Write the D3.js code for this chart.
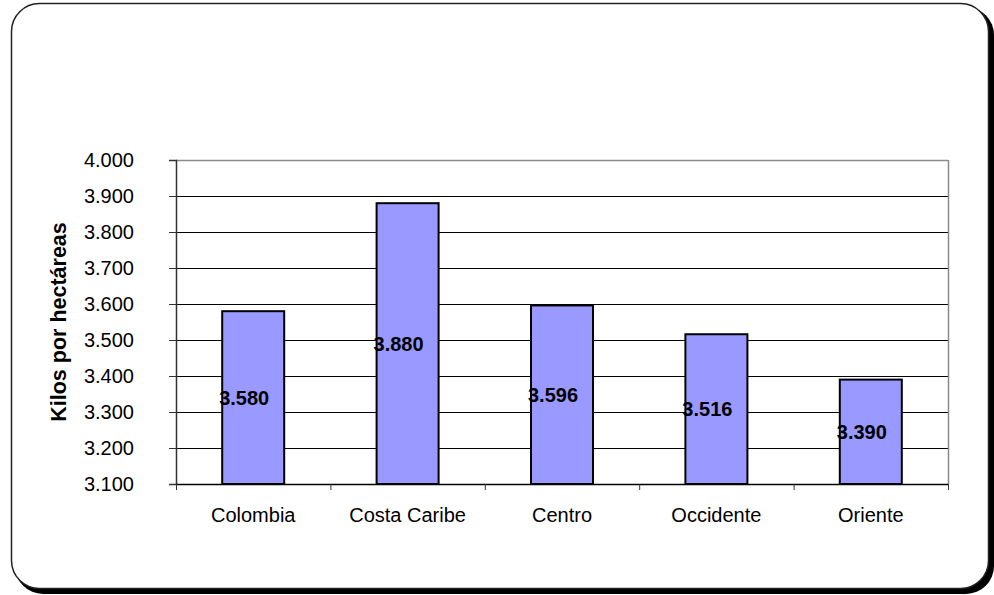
<!DOCTYPE html>
<html>
<head>
<meta charset="utf-8">
<script src="https://cdn.jsdelivr.net/npm/d3@7"></script>
<style>
  html, body { margin: 0; padding: 0; background: #fff; }
  svg { display: block; font-family: Arial, "Liberation Sans", sans-serif; }
</style>
</head>
<body>
<svg id="chart" width="994" height="595"></svg>
<script>
// Rendimiento por región (kilos por hectárea)
const categories = ["Colombia", "Costa Caribe", "Centro", "Occidente", "Oriente"];
const values = [3.580, 3.880, 3.596, 3.516, 3.390];
const valueLabels = ["3.580", "3.880", "3.596", "3.516", "3.390"];
const yTicks = [3.1, 3.2, 3.3, 3.4, 3.5, 3.6, 3.7, 3.8, 3.9, 4.0];
const yTickLabels = ["3.100", "3.200", "3.300", "3.400", "3.500", "3.600", "3.700", "3.800", "3.900", "4.000"];
const yTitle = "Kilos por hectáreas";

const svg = d3.select("#chart");
const FONT = "Arial, 'Liberation Sans', sans-serif";

// Outer frame with a dark drop shadow at bottom-right
svg.append("rect")
  .attr("x", 15).attr("y", 7).attr("width", 979).attr("height", 587)
  .attr("rx", 28).attr("fill", "#000");
svg.append("rect")
  .attr("x", 11.5).attr("y", 3.5).attr("width", 977).attr("height", 585)
  .attr("rx", 28).attr("fill", "#fff").attr("stroke", "#222").attr("stroke-width", 1.5);

const plot = { left: 176, right: 948, top: 160, bottom: 484 };

const x = d3.scaleBand().domain(categories).range([plot.left, plot.right]).paddingInner(0).paddingOuter(0);
const y = d3.scaleLinear().domain([3.1, 4.0]).range([plot.bottom, plot.top]);

// Horizontal gridlines
svg.append("g").selectAll("line").data(yTicks.slice(1, -1)).join("line")
  .attr("x1", plot.left).attr("x2", plot.right)
  .attr("y1", d => Math.round(y(d)) + 0.5).attr("y2", d => Math.round(y(d)) + 0.5)
  .attr("stroke", "#000").attr("stroke-width", 1);

// Plot-area border (top and right in gray)
svg.append("line").attr("x1", plot.left).attr("x2", plot.right)
  .attr("y1", plot.top + 0.5).attr("y2", plot.top + 0.5)
  .attr("stroke", "#8a8a8a").attr("stroke-width", 1.5);
svg.append("line").attr("x1", plot.right + 0.5).attr("x2", plot.right + 0.5)
  .attr("y1", plot.top).attr("y2", plot.bottom)
  .attr("stroke", "#8a8a8a").attr("stroke-width", 1.5);

// Bars
const barW = 62;
svg.append("g").selectAll("rect").data(values).join("rect")
  .attr("x", (d, i) => x(categories[i]) + x.bandwidth() / 2 - barW / 2)
  .attr("y", d => y(d))
  .attr("width", barW)
  .attr("height", d => y(3.1) - y(d))
  .attr("fill", "#9999ff")
  .attr("stroke", "#000").attr("stroke-width", 2);

// Y axis
const yAxis = d3.axisLeft(y).tickValues(yTicks)
  .tickFormat((d, i) => yTickLabels[i]).tickSize(7).tickPadding(35);
const gy = svg.append("g").attr("transform", `translate(${plot.left},0)`).call(yAxis);
gy.select(".domain").attr("stroke", "#333").attr("stroke-width", 1.5);
gy.selectAll(".tick line").attr("stroke", "#333");
gy.selectAll(".tick text").attr("font-size", 20).attr("fill", "#000").attr("font-family", FONT);

// X axis
const xAxis = d3.axisBottom(x).tickSize(0).tickPadding(24);
const gx = svg.append("g").attr("transform", `translate(0,${plot.bottom})`).call(xAxis);
gx.select(".domain").attr("stroke", "#000").attr("stroke-width", 1.5);
gx.selectAll(".tick text").attr("font-size", 20).attr("fill", "#000").attr("font-family", FONT);
// Category separators below the axis
svg.append("g").selectAll("line")
  .data(categories.map(c => x(c)).concat([plot.right])).join("line")
  .attr("x1", d => d + 0.5).attr("x2", d => d + 0.5)
  .attr("y1", plot.bottom).attr("y2", plot.bottom + 6)
  .attr("stroke", "#333");

// Value labels at the middle of each bar
svg.append("g").selectAll("text").data(values).join("text")
  .attr("x", (d, i) => x(categories[i]) + x.bandwidth() / 2 - 9)
  .attr("y", d => (y(d) + y(3.1)) / 2)
  .attr("dy", "0.35em")
  .attr("text-anchor", "middle")
  .attr("font-family", FONT)
  .attr("font-size", 20).attr("font-weight", "bold").attr("fill", "#000")
  .text((d, i) => valueLabels[i]);

// Y axis title
svg.append("text")
  .attr("transform", `translate(66,${(plot.top + plot.bottom) / 2}) rotate(-90)`)
  .attr("text-anchor", "middle")
  .attr("font-family", FONT)
  .attr("font-size", 21.5).attr("font-weight", "bold").attr("fill", "#000")
  .text(yTitle);
</script>
</body>
</html>
